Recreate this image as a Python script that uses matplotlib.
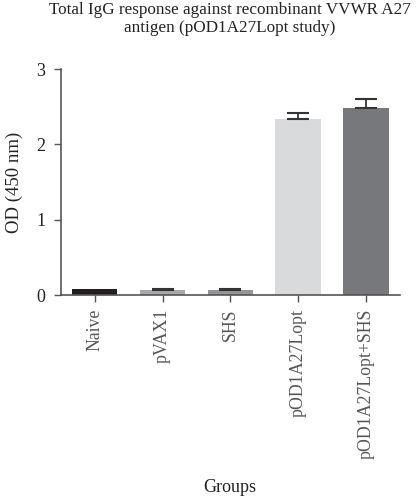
import matplotlib
matplotlib.use("Agg")
import matplotlib.pyplot as plt

groups = ["Naive", "pVAX1", "SHS", "pOD1A27Lopt", "pOD1A27Lopt+SHS"]
means = [0.08, 0.07, 0.07, 2.34, 2.48]
errors = [0.0, 0.015, 0.013, 0.08, 0.12]
colors = ["#231f20", "#a7a9ac", "#939598", "#d9dadb", "#77787b"]
yticks = [0, 1, 2, 3]

plt.rcParams['font.family'] = ['Liberation Serif', 'DejaVu Serif']
axc = "#555555"
tc = "#222222"

fig = plt.figure(figsize=(4.17, 5.0), dpi=100)
ax = fig.add_axes([0.146, 0.41, 0.813, 0.452])
x = list(range(len(groups)))
ax.bar(x, means, width=0.67, color=colors, zorder=2)
for xi, m, e in zip(x, means, errors):
    if e > 0:
        ax.errorbar(xi, m, yerr=[[0], [e]], fmt='none', ecolor="#333333",
                    elinewidth=1.3, capsize=8, capthick=1.5, zorder=3)
ax.set_xlim(-0.5, 4.5)
ax.set_ylim(0, 3)
ax.set_yticks(yticks)
ax.set_xticks(x)
ax.set_xticklabels(groups, rotation=90, fontsize=12.8, color=tc)
ax.tick_params(axis='y', labelsize=13, colors=axc, labelcolor=tc, length=5, width=1, pad=6)
ax.tick_params(axis='x', colors=axc, length=5, width=1, pad=5)
for s in ["top", "right"]:
    ax.spines[s].set_visible(False)
for s in ["left", "bottom"]:
    ax.spines[s].set_color(axc)
    ax.spines[s].set_linewidth(1.2)
ax.set_ylabel("OD (450 nm)", fontsize=13.5, color=tc, labelpad=10)
fig.text(0.552, 0.996, "Total IgG response against recombinant VVWR A27\nantigen (pOD1A27Lopt study)",
         ha='center', va='top', fontsize=12.3, color=tc, linespacing=1.15)
fig.text(0.552, 0.008, "Groups", ha='center', va='bottom', fontsize=13, color=tc)
fig.savefig("out.png", dpi=100)
